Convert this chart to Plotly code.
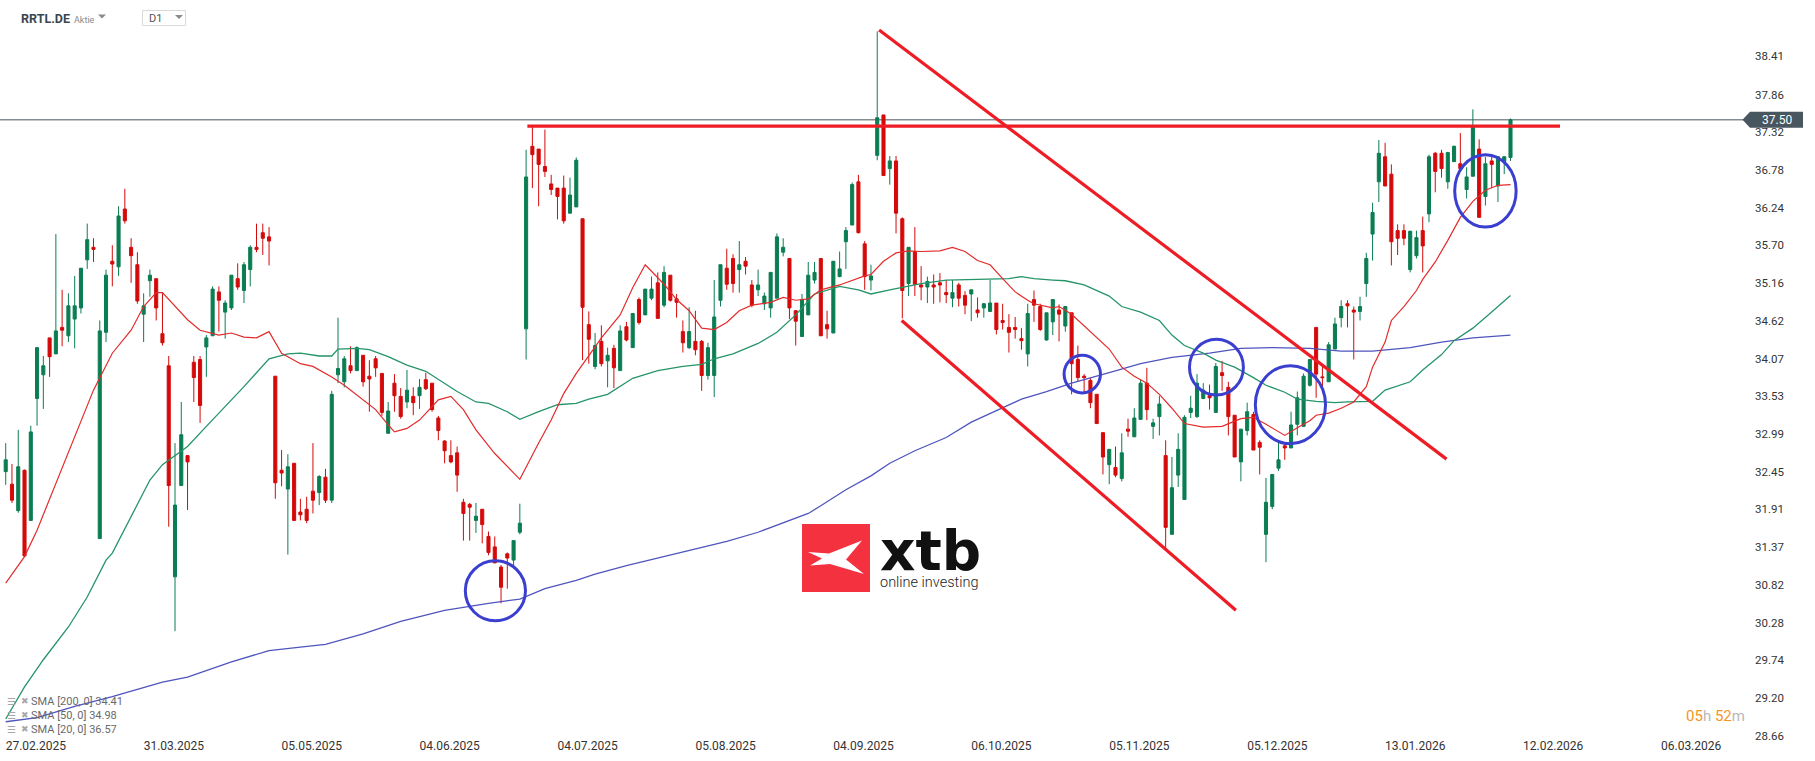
import plotly.graph_objects as go

# ---------------- data ----------------
opens = [32.45,32.27,31.89,32.47,31.75,33.50,33.84,34.37,34.14,34.52,34.40,34.64,34.80,35.49,35.67,31.49,34.45,35.47,35.39,36.22,
         35.67,35.42,34.71,35.19,35.22,34.43,33.97,30.94,32.25,32.68,34.02,34.06,34.24,34.40,35.03,34.74,34.80,35.22,35.05,35.35,
         35.67,35.88,35.82,33.82,32.47,32.20,32.57,31.87,31.91,32.17,32.15,32.37,32.04,33.84,33.74,33.97,33.90,34.12,33.82,34.07,
         33.86,33.00,33.72,33.53,33.45,33.53,33.54,33.77,33.72,33.22,32.89,32.68,32.72,32.01,31.98,31.75,31.91,31.52,31.37,31.08,
         31.27,31.18,31.58,34.50,37.12,37.08,36.83,36.58,36.52,36.52,36.16,36.25,36.08,34.56,33.96,34.32,34.04,34.22,33.90,34.53,
         34.23,34.92,34.70,34.94,35.16,34.84,35.27,34.93,34.46,34.23,34.32,34.32,33.83,33.83,34.91,35.37,35.51,35.35,35.47,35.13,
         35.06,34.86,34.80,34.94,35.60,35.51,34.76,34.39,34.70,35.20,35.51,34.56,34.44,35.25,35.75,35.99,36.61,35.72,35.20,36.99,
         37.57,36.80,36.91,36.08,35.15,35.61,35.13,35.10,35.13,35.16,35.02,34.94,35.13,34.98,35.00,34.77,34.80,34.75,34.87,34.62,
         34.52,34.52,34.36,34.14,34.92,34.82,34.34,34.60,34.77,34.54,34.73,34.06,33.82,33.76,33.56,33.01,32.55,32.51,32.35,33.06,
         32.95,33.20,33.72,33.10,33.24,32.68,31.55,32.40,32.05,33.30,33.24,33.50,33.54,33.30,33.87,33.66,33.26,32.59,33.04,33.27,
         32.87,31.55,31.95,32.50,32.82,32.79,33.13,33.10,33.69,34.52,33.81,33.74,34.21,34.66,34.86,34.77,34.75,35.15,35.86,36.61,
         36.97,36.72,35.91,35.91,35.35,35.55,35.91,36.15,37.02,37.02,36.61,36.90,36.87,36.50,36.69,37.08,36.40,36.91,36.55,36.90,
         36.96]
highs = [32.86,32.56,33.05,32.48,33.11,34.23,34.11,34.37,35.86,35.06,35.01,35.26,35.37,36.01,35.80,34.62,35.35,35.70,36.26,36.51,
         35.80,35.60,35.01,35.35,35.22,35.02,34.11,32.86,33.45,32.68,34.11,34.11,34.41,35.11,35.11,34.91,35.27,35.44,35.46,35.70,
         36.01,36.01,35.96,33.82,32.76,32.70,32.57,32.06,32.09,32.86,32.40,32.49,33.61,34.66,34.11,34.25,34.25,34.12,34.05,34.11,
         33.86,33.45,33.85,33.65,33.91,33.66,33.78,33.87,33.72,33.25,32.90,32.90,32.81,32.06,32.00,32.00,31.91,31.59,31.52,31.11,
         31.29,31.46,31.99,37.07,37.40,37.08,37.36,36.71,36.52,36.70,36.67,36.96,36.08,34.75,34.44,34.55,34.23,34.27,34.55,34.60,
         34.72,34.95,35.07,35.25,35.31,35.40,35.27,35.00,34.62,34.81,34.76,34.34,34.30,35.20,35.42,35.65,35.57,35.76,35.53,35.20,
         35.35,35.02,35.31,35.87,35.80,35.51,34.77,35.00,35.46,35.46,35.51,34.76,35.47,35.61,35.96,36.60,36.71,35.76,35.42,38.77,
         37.57,36.98,36.98,36.10,35.67,35.96,35.40,35.25,35.28,35.30,35.20,35.20,35.16,35.04,35.06,34.95,34.87,35.20,34.87,34.86,
         34.71,34.67,34.51,34.86,35.05,34.86,34.73,34.92,34.85,34.82,34.73,34.26,33.85,33.80,33.56,33.01,32.77,32.81,33.00,33.21,
         33.36,33.77,33.94,33.21,33.54,32.90,32.66,33.00,33.26,33.54,33.85,33.72,33.70,34.01,34.04,33.74,33.26,33.06,33.44,33.31,
         32.90,32.36,32.41,32.86,32.87,33.31,33.60,33.86,34.06,34.52,33.97,34.31,34.66,34.91,34.91,34.82,34.96,35.59,36.31,37.21,
         37.17,36.86,36.00,36.00,35.91,35.91,36.11,37.00,37.04,37.07,37.04,37.13,37.31,36.82,37.65,37.22,36.97,36.97,36.98,36.98,
         37.52]
lows = [32.26,32.00,31.86,31.23,31.75,33.11,33.35,33.81,34.14,34.25,34.31,34.22,34.72,35.36,35.46,31.49,34.31,35.11,35.26,36.01,
        35.16,34.86,34.31,34.96,34.62,34.26,31.66,30.16,32.25,31.90,33.45,33.15,33.81,34.40,34.46,34.36,34.77,35.06,34.87,35.11,
        35.60,35.56,35.41,32.06,32.24,31.26,31.75,31.75,31.71,31.85,31.97,32.00,32.00,33.72,33.66,33.86,33.90,33.67,33.31,33.81,
        33.25,33.00,33.31,33.21,33.36,33.26,33.35,33.62,33.31,32.90,32.57,32.57,32.16,31.46,31.46,31.57,31.42,31.25,31.14,30.56,
        30.77,31.06,31.55,34.06,36.52,36.26,36.68,36.42,36.07,36.01,36.16,36.25,34.05,34.00,33.92,33.96,33.66,33.65,33.90,34.32,
        34.23,34.56,34.70,34.91,34.65,34.81,34.89,34.66,34.16,34.21,34.12,33.61,33.77,33.52,34.82,35.06,35.02,35.02,35.28,34.81,
        34.97,34.77,34.66,34.94,35.54,34.64,34.26,34.39,34.70,35.15,34.40,34.36,34.44,35.24,35.36,35.99,35.87,35.06,35.05,36.92,
        36.70,36.57,35.87,34.65,34.97,34.97,34.91,34.87,34.86,34.88,34.87,34.81,34.82,34.71,34.61,34.66,34.66,34.75,34.42,34.49,
        34.16,34.36,34.20,33.96,34.60,34.47,34.33,34.41,34.32,34.46,33.56,33.74,33.59,33.36,33.14,32.41,32.27,32.37,32.31,32.95,
        32.95,33.20,33.19,32.92,32.97,31.34,31.55,32.23,32.05,33.22,33.22,33.49,33.34,33.30,33.61,32.97,32.66,32.31,32.97,32.76,
        32.41,31.15,31.91,32.46,32.62,32.79,32.97,33.10,33.67,33.51,33.64,33.74,34.21,34.52,34.52,34.06,34.62,34.96,35.48,36.32,
        36.55,35.41,35.56,35.70,35.31,35.51,35.31,36.03,36.46,36.67,36.51,36.90,36.80,36.37,36.69,36.10,36.27,36.52,36.32,36.72,
        36.91]
closes = [32.62,32.04,32.52,31.24,33.02,34.23,33.97,34.10,34.47,34.48,34.83,34.83,35.37,35.78,35.64,34.47,35.27,35.43,36.12,36.05,
          35.55,34.90,34.83,35.27,34.80,34.30,32.25,31.97,32.98,32.59,33.80,33.40,34.37,35.07,34.91,34.87,35.27,35.10,35.42,35.67,
          35.64,35.80,35.76,32.29,32.43,32.52,31.75,31.83,31.75,32.04,32.38,32.04,33.56,33.93,34.07,33.90,34.23,33.74,33.78,33.94,
          33.30,33.32,33.54,33.24,33.62,33.44,33.66,33.64,33.34,33.04,32.75,32.59,32.40,31.85,31.94,31.81,31.69,31.29,31.14,30.79,
          31.21,31.46,31.71,36.68,37.00,36.86,36.76,36.50,36.40,36.05,36.42,36.92,34.81,34.35,34.26,34.00,34.12,33.94,34.47,34.34,
          34.72,34.59,35.07,35.07,34.65,35.31,34.91,34.88,34.30,34.46,34.20,33.83,34.23,34.67,35.42,35.14,35.15,35.42,35.40,34.84,
          35.13,34.97,35.31,35.82,35.67,34.80,34.61,34.92,35.27,35.31,34.40,34.50,35.47,35.36,35.91,36.57,35.88,35.25,35.26,37.53,
          36.70,36.91,36.16,35.05,35.67,35.14,35.10,35.18,35.10,35.13,34.99,35.02,34.94,34.84,35.06,34.73,34.86,34.87,34.49,34.59,
          34.45,34.49,34.33,34.72,34.84,34.49,34.73,34.92,34.71,34.82,34.00,33.80,33.80,33.44,33.14,32.66,32.77,32.40,32.72,33.03,
          33.22,33.72,33.34,33.15,33.42,31.65,32.22,32.77,33.23,33.36,33.72,33.62,33.51,33.96,33.83,33.24,32.66,33.06,33.31,32.76,
          32.80,32.01,32.41,32.62,32.79,33.12,33.51,33.82,34.06,33.85,33.80,34.27,34.57,34.82,34.83,34.74,34.82,35.51,36.17,37.02,
          36.55,35.75,35.80,35.80,35.90,35.81,35.69,36.97,36.76,36.80,37.03,37.12,36.80,36.68,37.41,36.10,36.87,36.86,36.97,36.97,
          37.50]

# moving averages at sample bars
sma20_bar = [0,3,5,8,11,14,17,20,22,24,25,27,29,31,34,36,38,40,42,44,47,49,52,54,56,59,61,62,64,66,69,71,73,75,78,80,82,85,87,89,91,94,
             95,98,100,102,105,107,109,111,113,115,117,119,122,124,126,128,130,133,135,137,138,140,142,144,146,149,151,153,155,157,159,161,163,164,167,
             168,170,173,176,178,180,182,184,186,188,191,194,197,199,201,203,204,206,208,209,211,213,215,217,218,220,221,223,225,226,228,230,232,234,236,238,240]
sma20_val = [30.85,31.23,31.61,32.28,32.95,33.62,34.15,34.48,34.82,35.02,35.02,34.82,34.63,34.48,34.41,34.44,34.38,34.37,34.46,34.15,34.00,33.96,33.81,33.69,33.55,33.34,33.12,33.02,33.07,33.19,33.48,33.53,33.34,33.05,32.71,32.52,32.34,32.86,33.19,33.57,33.86,34.24,
             34.37,34.70,35.09,35.42,35.14,34.92,34.76,34.51,34.49,34.59,34.76,34.84,34.88,34.95,34.91,34.93,35.06,35.13,35.20,35.26,35.28,35.47,35.59,35.62,35.61,35.62,35.67,35.61,35.48,35.42,35.22,35.03,34.91,34.86,34.80,
             34.82,34.71,34.46,34.21,33.95,33.82,33.72,33.56,33.36,33.14,33.09,33.10,33.21,33.23,33.13,33.03,32.97,33.08,33.18,33.26,33.29,33.36,33.45,33.67,33.95,34.31,34.62,34.82,35.05,35.21,35.46,35.77,36.10,36.33,36.49,36.56,36.57]
sma50_bar = [0,3,6,10,13,16,17,20,23,25,29,32,35,38,42,45,47,50,52,53,56,58,61,64,67,70,72,75,77,80,82,85,88,91,93,96,100,104,108,111,113,116,120,123,126,129,133,136,138,141,144,146,150,154,157,160,162,164,167,
             169,172,176,178,181,184,186,188,191,193,196,199,201,204,206,209,212,214,218,220,224,226,229,231,234,237,240]
sma50_val = [28.90,29.36,29.75,30.22,30.65,31.18,31.28,31.80,32.33,32.55,32.81,33.10,33.38,33.67,34.07,34.14,34.15,34.11,34.11,34.21,34.22,34.20,34.10,33.98,33.89,33.72,33.60,33.45,33.43,33.31,33.20,33.31,33.41,33.43,33.49,33.56,33.79,33.90,33.96,33.99,34.07,34.14,34.29,34.45,34.70,35.00,35.11,35.06,35.00,35.06,35.11,35.15,35.20,35.21,35.21,35.22,35.25,35.22,35.20,
             35.19,35.13,34.97,34.82,34.74,34.62,34.41,34.26,34.15,34.05,33.95,33.80,33.69,33.59,33.49,33.46,33.44,33.45,33.46,33.62,33.74,33.91,34.13,34.33,34.51,34.74,34.98]
sma200_bar = [0,5,11,17,25,29,36,42,47,51,57,63,70,77,82,86,91,94,99,104,109,115,120,123,128,130,134,138,141,145,150,154,159,162,166,170,176,181,186,192,197,202,208,213,218,224,229,234,240]
sma200_val = [28.86,28.92,29.08,29.22,29.43,29.50,29.72,29.88,29.93,29.97,30.12,30.30,30.46,30.56,30.62,30.77,30.89,30.98,31.10,31.21,31.32,31.45,31.58,31.68,31.85,31.96,32.19,32.39,32.57,32.75,32.94,33.16,33.36,33.49,33.60,33.72,33.87,34.00,34.09,34.15,34.22,34.23,34.22,34.18,34.18,34.23,34.31,34.37,34.41]

date_labels = ["27.02.2025","31.03.2025","05.05.2025","04.06.2025","04.07.2025","05.08.2025","04.09.2025",
               "06.10.2025","05.11.2025","05.12.2025","13.01.2026","12.02.2026","06.03.2026"]
date_bars = [0,22,44,66,88,110,132,154,176,198,220,242,264]
price_ticks = [28.66,29.20,29.74,30.28,30.82,31.37,31.91,32.45,32.99,33.53,34.07,34.62,35.16,35.70,36.24,36.78,37.32,37.86,38.41]
last_price = 37.50
legend_rows = ["SMA [200, 0] 34.41", "SMA [50, 0] 34.98", "SMA [20, 0] 36.57"]

# drawn analysis (bar index, price)
resistance = dict(bar0=83.2, bar1=247.9, price=37.41)
channel_upper = [(139.3, 38.79), (229.8, 32.63)]
channel_lower = [(142.9, 34.62), (196.2, 30.46)]
circles = [(78.1, 30.74, 4.8, 0.43), (171.7, 33.85, 2.9, 0.27), (193.1, 33.95, 4.3, 0.40),
           (204.9, 33.41, 5.6, 0.56), (236.0, 36.48, 4.9, 0.52)]

# ---------------- figure ----------------
GREEN = "#0b7d52"
RED = "#d40a0a"
W, H = 1815, 761
PW, PH = 1745, 737          # plot area in pixels
def px(x): return x / PW
def py(y): return (PH - y) / PH

n = len(closes)
bars = list(range(n))

fig = go.Figure()
fig.add_trace(go.Candlestick(
    x=bars, open=opens, high=highs, low=lows, close=closes,
    increasing=dict(line=dict(color=GREEN, width=1), fillcolor=GREEN),
    decreasing=dict(line=dict(color=RED, width=1), fillcolor=RED),
    whiskerwidth=0, hoverinfo="skip", showlegend=False))
fig.add_trace(go.Scatter(x=sma200_bar, y=sma200_val, mode="lines",
                         line=dict(color="#4f55bd", width=1.3), hoverinfo="skip", showlegend=False))
fig.add_trace(go.Scatter(x=sma50_bar, y=sma50_val, mode="lines",
                         line=dict(color="#259468", width=1.3), hoverinfo="skip", showlegend=False))
fig.add_trace(go.Scatter(x=sma20_bar, y=sma20_val, mode="lines",
                         line=dict(color="#e32b2b", width=1.2), hoverinfo="skip", showlegend=False))

shapes = []
# current price line
shapes.append(dict(type="line", xref="paper", yref="y", x0=0, x1=1, y0=last_price, y1=last_price,
                   line=dict(color="#4a545d", width=1), layer="below"))
# red analysis lines
LR = "#ee1c25"
shapes.append(dict(type="line", xref="x", yref="y", x0=resistance["bar0"], x1=resistance["bar1"],
                   y0=resistance["price"], y1=resistance["price"], line=dict(color=LR, width=3.2)))
for (a, b) in (channel_upper, channel_lower):
    shapes.append(dict(type="line", xref="x", yref="y", x0=a[0], y0=a[1], x1=b[0], y1=b[1],
                       line=dict(color=LR, width=3.2)))
for (cx, cy, rx, ry) in circles:
    shapes.append(dict(type="circle", xref="x", yref="y", x0=cx - rx, x1=cx + rx, y0=cy - ry, y1=cy + ry,
                       line=dict(color="#3a3fcf", width=3)))
# price tag
tag_top, tag_bot = last_price + 16 / 2 / 69.66, last_price - 16 / 2 / 69.66
shapes.append(dict(type="path", xref="paper", yref="y",
                   path=f"M {px(1742.5)},{last_price} L {px(1750)},{tag_top} L {px(1803)},{tag_top} "
                        f"L {px(1803)},{tag_bot} L {px(1750)},{tag_bot} Z",
                   fillcolor="#47565f", line=dict(width=0)))
# header: dropdown carets and D1 box
def caret(x0, x1, y0, y1):
    xm = (x0 + x1) / 2
    return dict(type="path", xref="paper", yref="paper",
                path=f"M {px(x0)},{py(y0)} L {px(x1)},{py(y0)} L {px(xm)},{py(y1)} Z",
                fillcolor="#8a8a8a", line=dict(width=0))
shapes.append(caret(98, 106, 14.5, 18.5))
shapes.append(caret(175, 183, 15, 19))
shapes.append(dict(type="rect", xref="paper", yref="paper", x0=px(142.5), x1=px(185.5), y0=py(25.5), y1=py(10.5),
                   line=dict(color="#d9d9d9", width=1), fillcolor="rgba(0,0,0,0)"))
# xtb logo
shapes.append(dict(type="rect", xref="paper", yref="paper", x0=px(802), x1=px(870), y0=py(592), y1=py(524),
                   fillcolor="#f3313f", line=dict(width=0)))
logo_pts = [(808, 552), (829, 553.5), (862, 540.5), (846, 559.5), (864, 574), (830, 564), (810, 565.5), (822, 558.5)]
shapes.append(dict(type="path", xref="paper", yref="paper",
                   path="M " + " L ".join(f"{px(a)},{py(b)}" for a, b in logo_pts) + " Z",
                   fillcolor="white", line=dict(width=0)))

ann = []
ann.append(dict(xref="paper", yref="y", x=px(1777), y=last_price, text=f"{last_price:.2f}", showarrow=False,
                font=dict(family="Roboto", size=12, color="white"), xanchor="center", yanchor="middle"))
ann.append(dict(xref="paper", yref="paper", x=px(19), y=py(18.5), text="<b>RRTL.DE</b>", showarrow=False,
                font=dict(family="Roboto", size=12.5, color="#3b4650"), xanchor="left", yanchor="middle"))
ann.append(dict(xref="paper", yref="paper", x=px(72), y=py(19.5), text="Aktie", showarrow=False,
                font=dict(family="Roboto", size=9, color="#8a8a8a"), xanchor="left", yanchor="middle"))
ann.append(dict(xref="paper", yref="paper", x=px(147), y=py(19), text="D1", showarrow=False,
                font=dict(family="Roboto", size=11, color="#555555"), xanchor="left", yanchor="middle"))
# legend rows
for k, (txt, yy) in enumerate(zip(legend_rows, [701, 715, 729])):
    ann.append(dict(xref="paper", yref="paper", x=px(5), y=py(yy), text="☰", showarrow=False,
                    font=dict(family="DejaVu Sans", size=10, color="#a8a8a8"), xanchor="left", yanchor="middle"))
    ann.append(dict(xref="paper", yref="paper", x=px(19), y=py(yy), text="✖", showarrow=False,
                    font=dict(family="DejaVu Sans", size=9, color="#a8a8a8"), xanchor="left", yanchor="middle"))
    ann.append(dict(xref="paper", yref="paper", x=px(29), y=py(yy), text=txt, showarrow=False,
                    font=dict(family="Roboto", size=11, color="#6a6a6a"), xanchor="left", yanchor="middle"))
# timer
OR, GR = "#f7941d", "#b8b8b8"
ann.append(dict(xref="paper", yref="paper", x=px(1747), y=py(716),
                text=f"<span style='color:{OR}'>05</span><span style='color:{GR}'>h</span> "
                     f"<span style='color:{OR}'>52</span><span style='color:{GR}'>m</span>",
                showarrow=False, font=dict(family="Roboto", size=15), xanchor="right", yanchor="middle"))
# logo text (one block, two lines)
ann.append(dict(xref="paper", yref="paper", x=px(878), y=py(517), align="left",
                text="<span style='font-family:DejaVu Sans;font-size:55px;font-weight:bold;fill:#111111'>xtb</span><br>"
                     "<span style='font-family:Roboto;font-size:14.5px;font-weight:300;fill:#222222'>online investing</span>",
                showarrow=False, font=dict(family="Roboto", size=13, color="#222222"),
                xanchor="left", yanchor="top"))

fig.update_layout(
    width=W, height=H, margin=dict(l=0, r=W - PW, t=0, b=H - PH),
    paper_bgcolor="white", plot_bgcolor="white",
    shapes=shapes, annotations=ann, showlegend=False, hovermode=False,
    xaxis=dict(range=[-0.91, 277.4], showgrid=False, zeroline=False, showline=False,
               tickmode="array", tickvals=date_bars, ticktext=date_labels, ticks="",
               ticklabelposition="outside right",
               tickfont=dict(family="Roboto", size=12, color="#333333"),
               rangeslider=dict(visible=False), fixedrange=True),
    yaxis=dict(range=[28.641, 39.22], side="right", showgrid=False, zeroline=False, showline=False,
               tickmode="array", tickvals=price_ticks, ticktext=[f"{v:.2f}" for v in price_ticks],
               ticks="", ticklabelstandoff=9,
               tickfont=dict(family="Roboto", size=11.5, color="#333333"), fixedrange=True),
)

fig.write_html("out.html", config={"displayModeBar": False},
               post_script="document.body.style.margin='0';document.body.style.overflow='hidden';")
